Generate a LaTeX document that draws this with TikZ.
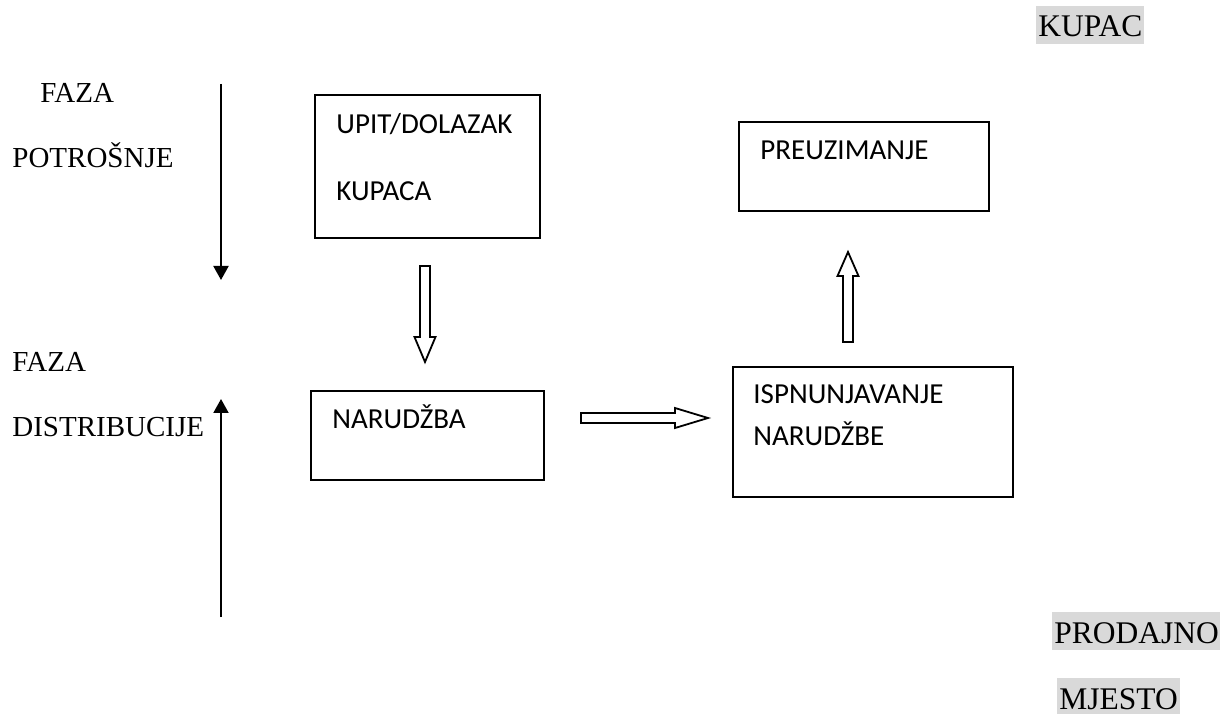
\documentclass[tikz,border=0pt]{standalone}
\usepackage{fontspec}
\setmainfont{Liberation Serif}
\newfontfamily\boxfont{Carlito}
\usetikzlibrary{arrows.meta}
\definecolor{hlgray}{RGB}{217,217,217}
\begin{document}
\begin{tikzpicture}[x=0.5pt,y=-0.5pt,
  procbox/.style={draw=black, line width=1pt, inner sep=0pt, anchor=north west},
  boxtext/.style={anchor=base west, inner sep=0pt, font=\boxfont\fontsize{14.5pt}{17pt}\selectfont},
  phase/.style={anchor=base west, inner sep=0pt, font=\fontsize{14.5pt}{17pt}\selectfont},
  marked/.style={anchor=base west, fill=hlgray, inner xsep=1pt, inner ysep=0pt, text height=15.5pt, text depth=3.5pt, font=\fontsize{15.75pt}{18pt}\selectfont},
  thinarrow/.style={line width=1pt, -{Triangle[length=7pt,width=7.5pt]}},
  hollow/.style={draw=black, line width=0.9pt, fill=white, line join=miter}]
\useasboundingbox (0,0) rectangle (1220,715);

% highlighted corner labels
\node[marked] (kupac) at (1036,37) {KUPAC};
\node[marked] (prodajno) at (1052,643) {PRODAJNO};
\node[marked, text depth=2.5pt] (mjesto) at (1057,709) {MJESTO};

% phase labels
\node[phase] (faza1) at (40,103) {FAZA};
\node[phase] (potrosnje) at (12,168) {POTROŠNJE};
\node[phase] (faza2) at (12,372) {FAZA};
\node[phase] (distrib) at (12,437) {DISTRIBUCIJE};

% thin phase arrows
\coordinate (downS) at (221,84);
\coordinate (downE) at (221,280);
\draw[thinarrow] (downS) -- (downE);
\coordinate (upS) at (221,617);
\coordinate (upE) at (221,399);
\draw[thinarrow] (upS) -- (upE);

% process boxes
\node[procbox, minimum width=112.5pt, minimum height=71.5pt] (upit) at (314,94) {};
\node[boxtext] (upitA) at (336,134) {UPIT/DOLAZAK};
\node[boxtext] (upitB) at (336,201) {KUPACA};

\node[procbox, minimum width=125pt, minimum height=44.5pt] (preuz) at (738,121) {};
\node[boxtext] (preuzT) at (760,160) {PREUZIMANJE};

\node[procbox, minimum width=116.5pt, minimum height=44.5pt] (narudzba) at (310,390) {};
\node[boxtext] (narudzbaT) at (332,429) {NARUDŽBA};

\node[procbox, minimum width=140pt, minimum height=65pt] (ispn) at (732,366) {};
\node[boxtext] (ispnA) at (753,404) {ISPNUNJAVANJE};
\node[boxtext] (ispnB) at (753,446) {NARUDŽBE};

% hollow block arrows
\draw[hollow] (420,266) -- (430,266) -- (430,337) -- (435.5,337) -- (425,362) -- (414.5,337) -- (420,337) -- cycle;
\draw[hollow] (843,342) -- (853,342) -- (853,276) -- (858.5,276) -- (848,252) -- (837.5,276) -- (843,276) -- cycle;
\draw[hollow] (581,413) -- (675,413) -- (675,408) -- (708,418) -- (675,428) -- (675,423) -- (581,423) -- cycle;
\end{tikzpicture}
\end{document}
